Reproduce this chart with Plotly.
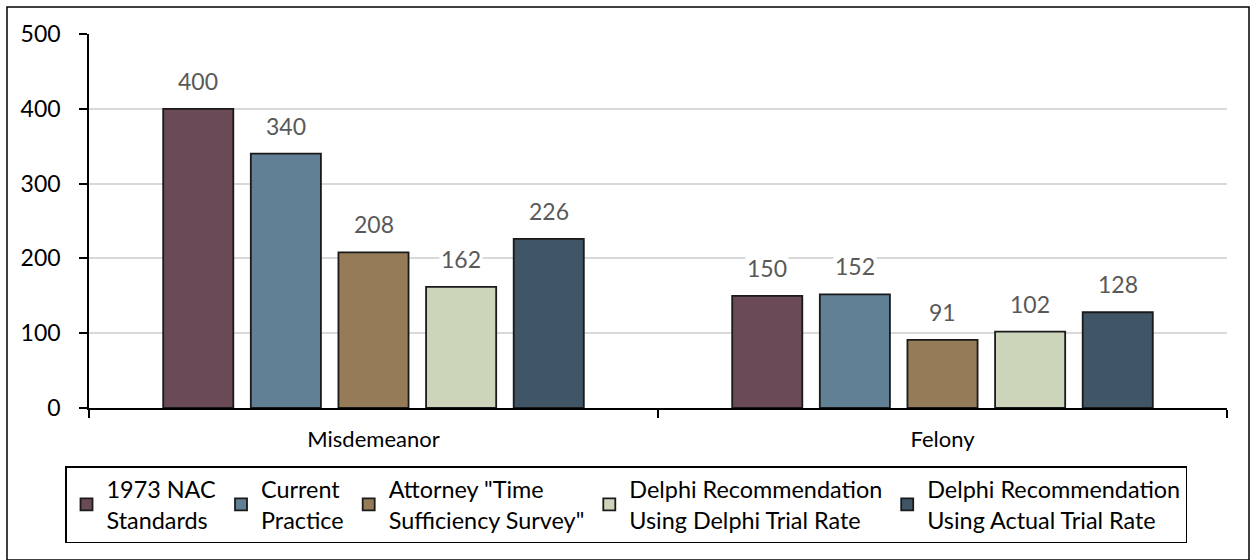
import plotly.graph_objects as go

categories = ["Misdemeanor", "Felony"]
series_names = [
    "1973 NAC<br>Standards",
    "Current<br>Practice",
    "Attorney \"Time<br>Sufficiency Survey\"",
    "Delphi Recommendation<br>Using Delphi Trial Rate",
    "Delphi Recommendation<br>Using Actual Trial Rate",
]
nac_1973 = [400, 150]
current_practice = [340, 152]
attorney_survey = [208, 91]
delphi_trial = [162, 102]
delphi_actual = [226, 128]
series_values = [nac_1973, current_practice, attorney_survey, delphi_trial, delphi_actual]
colors = ["#6B4A57", "#617F95", "#967B58", "#CCD5B9", "#405566"]
y_ticks = [0, 100, 200, 300, 400, 500]

FONT = "Lato"
BARGAP = 0.23
GROUPGAP = 0.2

L, R, T, B = 89, 23, 34, 152
W, H = 1250, 560
pw, ph = W - L - R, H - T - B

def px_x(p):
    return (p - L) / pw

def px_y(p):
    return (H - B - p) / ph

fig = go.Figure()
for name, vals, col in zip(series_names, series_values, colors):
    fig.add_trace(go.Bar(
        x=categories, y=vals, name=name,
        marker=dict(color=col, line=dict(color="#1a1a1a", width=1.8)),
        hoverinfo="x+y",
    ))

# data labels as annotations, shifted to each bar's slot within the group
n = len(series_values)
cat_px = pw / len(categories)
slot_px = cat_px * (1 - BARGAP) / n
annotations = []
for i, vals in enumerate(series_values):
    for cat, v in zip(categories, vals):
        annotations.append(dict(
            x=cat, y=v, xref="x", yref="y", text=str(v), showarrow=False,
            xshift=(i - (n - 1) / 2) * slot_px, yshift=12, yanchor="bottom",
            font=dict(family=FONT, size=23, color="#595959"),
            bgcolor="white",
        ))

fig.update_layout(
    width=W, height=H,
    margin=dict(l=L, r=R, t=T, b=B, autoexpand=False),
    paper_bgcolor="white", plot_bgcolor="white",
    barmode="group", bargap=BARGAP, bargroupgap=GROUPGAP,
    font=dict(family=FONT, size=23, color="#000000"),
    showlegend=True,
    legend=dict(
        orientation="h",
        x=px_x(65), y=px_y(466), xanchor="left", yanchor="top",
        bordercolor="#000000", borderwidth=1.5,
        font=dict(family=FONT, size=23.4, color="#000000"),
        traceorder="normal",
        itemwidth=30,
        tracegroupgap=0,
    ),
    xaxis=dict(
        type="category",
        showline=True, linecolor="#000000", linewidth=1.5,
        ticks="outside", tickson="boundaries", ticklen=8, tickcolor="#000000", tickwidth=1.5,
        showgrid=False,
        tickfont=dict(family=FONT, size=22, color="#000000"),
        ticklabelstandoff=11,
    ),
    yaxis=dict(
        range=[0, 500], tickvals=y_ticks,
        showline=True, linecolor="#000000", linewidth=1.5,
        ticks="outside", ticklen=8, tickcolor="#000000", tickwidth=1.5,
        showgrid=True, gridcolor="#D9D9D9", gridwidth=1.5,
        zeroline=False,
        tickfont=dict(family=FONT, size=23, color="#000000"),
        ticklabelstandoff=14,
    ),
    annotations=annotations,
    shapes=[dict(
        type="rect", xref="paper", yref="paper",
        x0=px_x(7), x1=px_x(1249), y0=px_y(560), y1=px_y(7),
        line=dict(color="#000000", width=1.5), fillcolor="rgba(0,0,0,0)", layer="below",
    )],
)

fig.write_html(
    "out.html",
    config={"displayModeBar": False},
    post_script="document.body.style.margin='0px';",
)
